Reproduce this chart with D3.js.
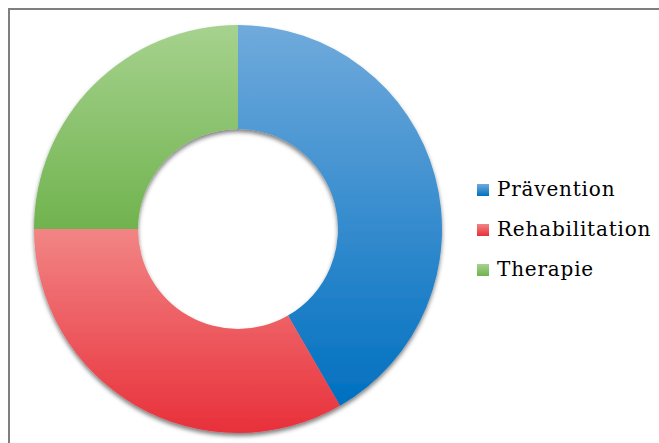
<!DOCTYPE html>
<html>
<head>
<meta charset="utf-8">
<script src="https://cdn.jsdelivr.net/npm/d3@7"></script>
<style>
  body { margin: 0; background: #fff; }
  svg { display: block; }
</style>
</head>
<body>
<div id="chart"></div>
<script>
// data
var categories = ["Prävention", "Rehabilitation", "Therapie"];
var values = [5, 4, 3];
var lightColors = ["#70aadc", "#f28585", "#a6d28e"];
var darkColors = ["#0070c0", "#e8303a", "#70b34e"];

var width = 659, height = 443;
var cx = 238, cy = 229;
var outerR = 204, innerR = 100;

var svg = d3.select("#chart").append("svg")
  .attr("width", width)
  .attr("height", height);

// frame
svg.append("rect")
  .attr("x", 9).attr("y", 9)
  .attr("width", width + 20).attr("height", height + 20)
  .style("fill", "none")
  .style("stroke", "#7f7f7f")
  .style("stroke-width", 2);

var defs = svg.append("defs");

var shadow = defs.append("filter")
  .attr("id", "shadow")
  .attr("x", "-10%").attr("y", "-10%")
  .attr("width", "120%").attr("height", "125%");
shadow.append("feDropShadow")
  .attr("dx", 0).attr("dy", 3)
  .attr("stdDeviation", 2)
  .attr("flood-color", "#000")
  .attr("flood-opacity", 0.5);

categories.forEach(function(c, i){
  var g = defs.append("linearGradient")
    .attr("id", "grad" + i)
    .attr("x1", 0).attr("y1", 0)
    .attr("x2", 0).attr("y2", 1);
  g.append("stop").attr("offset", "0%").attr("stop-color", lightColors[i]);
  g.append("stop").attr("offset", "100%").attr("stop-color", darkColors[i]);
});

var pie = d3.pie().sort(null).value(function(d){ return d; });
var arc = d3.arc().innerRadius(innerR).outerRadius(outerR);

var donut = svg.append("g")
  .attr("transform", "translate(" + cx + "," + cy + ")")
  .attr("filter", "url(#shadow)");

donut.selectAll("path")
  .data(pie(values))
  .enter()
  .append("path")
  .attr("d", arc)
  .style("fill", function(d, i){ return "url(#grad" + i + ")"; });

// legend
var legend = svg.append("g").attr("transform", "translate(477,196)");

var items = legend.selectAll("g")
  .data(categories)
  .enter()
  .append("g")
  .attr("transform", function(d, i){ return "translate(0," + (i * 40) + ")"; });

items.append("rect")
  .attr("x", 0).attr("y", -12)
  .attr("width", 12).attr("height", 12)
  .style("fill", function(d, i){ return "url(#grad" + i + ")"; });

items.append("text")
  .attr("x", 20).attr("y", 0)
  .style("font-family", "'DejaVu Serif', serif")
  .style("font-size", "20px")
  .style("letter-spacing", "0.8px")
  .style("fill", "#000")
  .text(function(d){ return d; });
</script>
</body>
</html>
